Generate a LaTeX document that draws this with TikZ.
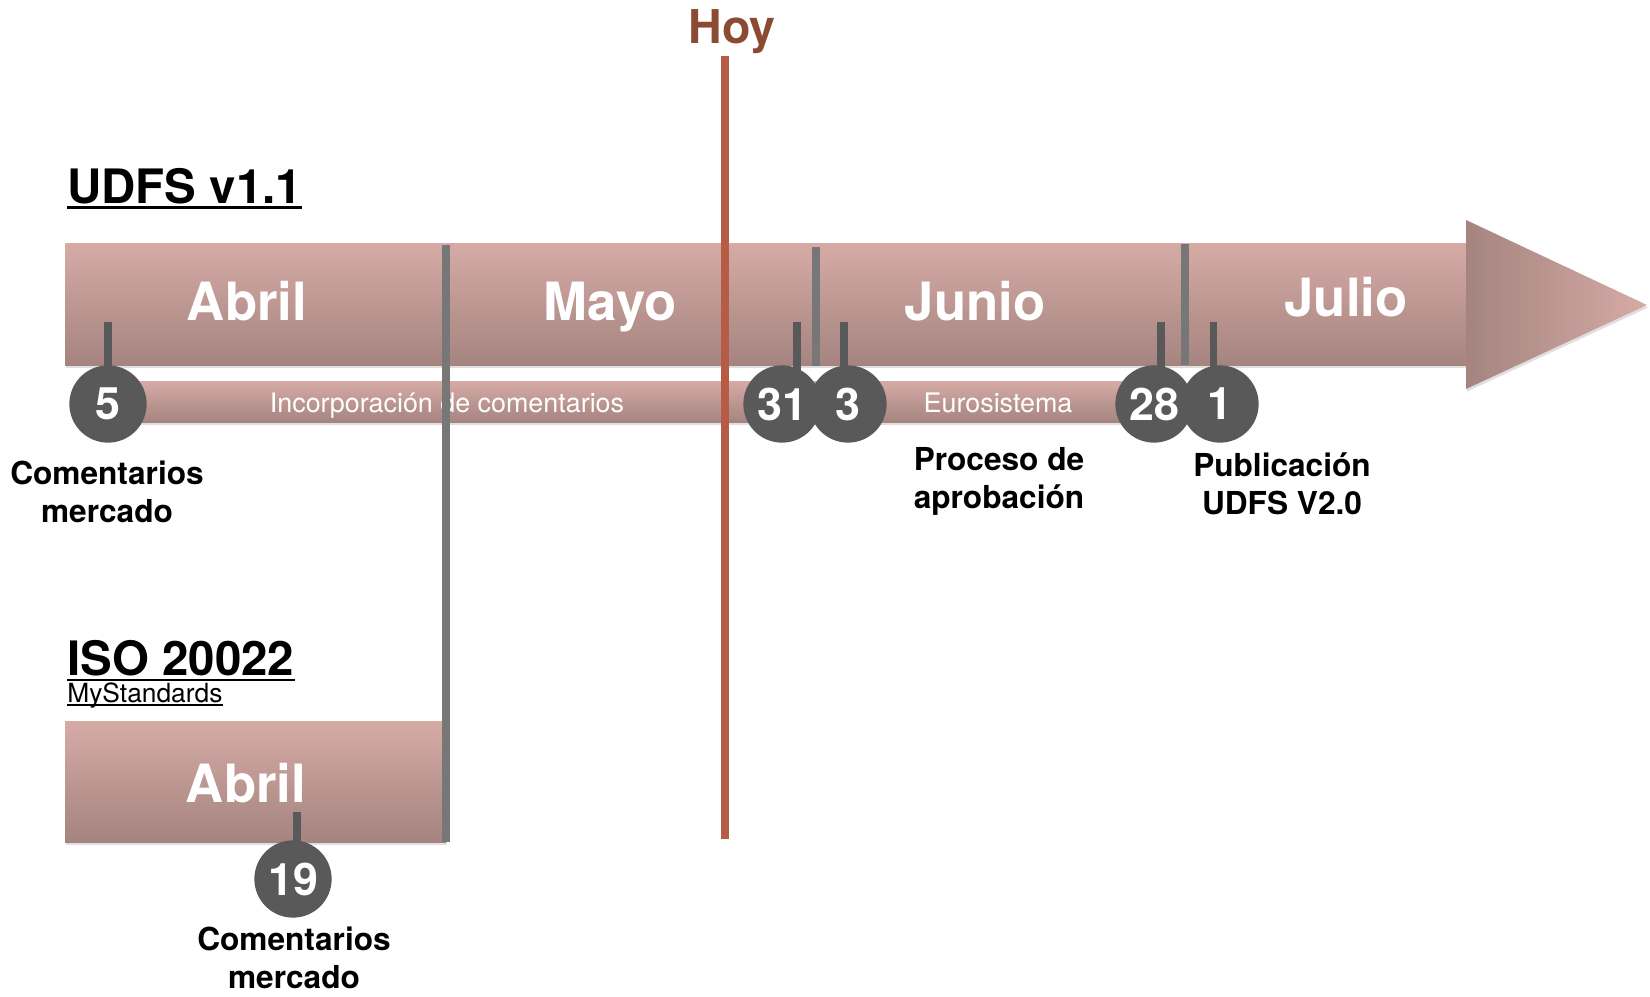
\documentclass[tikz,border=0pt]{standalone}
\usepackage{fontspec}
\setmainfont{TeX Gyre Heros}
\usepackage{tikz}
\usetikzlibrary{shadows}
\definecolor{barTop}{HTML}{D6ABA6}
\definecolor{barBot}{HTML}{A5847F}
\definecolor{hoyText}{HTML}{8A4B32}
\definecolor{hoyLine}{HTML}{B65C46}
\definecolor{dayGray}{HTML}{595959}
\definecolor{divGray}{HTML}{777777}

\begin{document}
\begin{tikzpicture}[x=0.02cm, y=-0.02cm,
  bar/.style={top color=barTop, bottom color=barBot, drop shadow={shadow xshift=0.5pt, shadow yshift=-1.5pt, opacity=0.25}},
  month/.style={anchor=base, text=white, inner sep=0, font=\fontsize{30}{36}\selectfont\bfseries},
  title/.style={anchor=base west, inner sep=0, font=\fontsize{27}{32}\selectfont\bfseries},
  day/.style={circle, fill=dayGray, minimum size=44pt, inner sep=0, text=white, font=\fontsize{25.5}{30}\selectfont\bfseries},
  tick/.style={dayGray, line width=4pt},
  divider/.style={divGray, line width=4.5pt},
  note/.style={anchor=base, align=center, inner sep=0, font=\fontsize{18}{21.5}\selectfont\bfseries},
  phase/.style={anchor=base, text=white, inner sep=0, font=\fontsize{15.3}{18}\selectfont}]
\useasboundingbox (0,0) rectangle (1650,997);

\path[bar] (65,243) rectangle (1466,365);
\path[bar, left color=barBot, right color=barTop] (1466,220) -- (1647,305) -- (1466,389) -- cycle;
\path[bar] (108,381) rectangle (1154,422);
\path[bar] (65,721) rectangle (446,842);

\node[phase] (incorp) at (447,412) {Incorporación de comentarios};
\node[phase] (euro) at (998,412) {Eurosistema};

\node[month] (abril) at (247,320) {Abril};
\node[month] (mayo) at (610,320) {Mayo};
\node[month] (junio) at (975,320) {Junio};
\node[month] (julio) at (1346,316) {Julio};
\node[month] (abrilIso) at (246,802) {Abril};

\draw[divider] (446,245) -- (446,842);
\draw[divider] (816,247) -- (816,366);
\draw[divider] (1185,244) -- (1185,365);

\coordinate (nowTop) at (725,56);
\coordinate (nowBot) at (725,839);
\draw[hoyLine, line width=4pt] (nowTop) -- (nowBot);
\node[anchor=base, inner sep=0, text=hoyText, font=\fontsize{26.5}{32}\selectfont\bfseries] (hoy) at (732,44) {Hoy};

\coordinate (t5) at (108,322);
\coordinate (t31) at (797,322);
\coordinate (t3) at (844,322);
\coordinate (t28) at (1161,322);
\coordinate (t1) at (1213,322);
\coordinate (t19) at (297,812);
\coordinate (c5) at (108,404);
\coordinate (c31) at (782,404);
\coordinate (c3) at (848,404);
\coordinate (c28) at (1154,404);
\coordinate (c1) at (1220,404);
\coordinate (c19) at (293,879);
\path[tick]
(t5) edge (t5 |- c5)
(t31) edge (t31 |- c31)
(t3) edge (t3 |- c3)
(t28) edge (t28 |- c28)
(t1) edge (t1 |- c1)
(t19) edge (t19 |- c19);
\node[day] (d5) at (c5) {5};
\node[day] (d31) at (c31) {31};
\node[day] (d3) at (c3) {3};
\node[day] (d28) at (c28) {28};
\node[day] (d1) at (c1) {1};
\node[day] (d19) at (c19) {19};

\node[note] (com1) at (107,522) {Comentarios\\mercado};
\node[note] (aprob) at (999,508) {Proceso de\\aprobación};
\node[note] (publ) at (1282,514) {Publicación\\UDFS V2.0};
\node[note] (com2) at (294,988) {Comentarios\\mercado};

\node[title] (udfs) at (67,203) {UDFS v1.1};
\draw[line width=1.7pt] ([yshift=-2.5pt]udfs.base west) -- ([yshift=-2.5pt]udfs.base east);
\node[title] (iso) at (67,675) {ISO 20022};
\draw[line width=1.4pt] ([yshift=-2.8pt]iso.base west) -- ([yshift=-2.8pt]iso.base east);
\node[anchor=base west, inner sep=0, font=\fontsize{15}{18}\selectfont] (myst) at (67,702) {MyStandards};
\draw[line width=0.8pt] ([yshift=-1.8pt]myst.base west) -- ([yshift=-1.8pt]myst.base east);
\end{tikzpicture}
\end{document}
